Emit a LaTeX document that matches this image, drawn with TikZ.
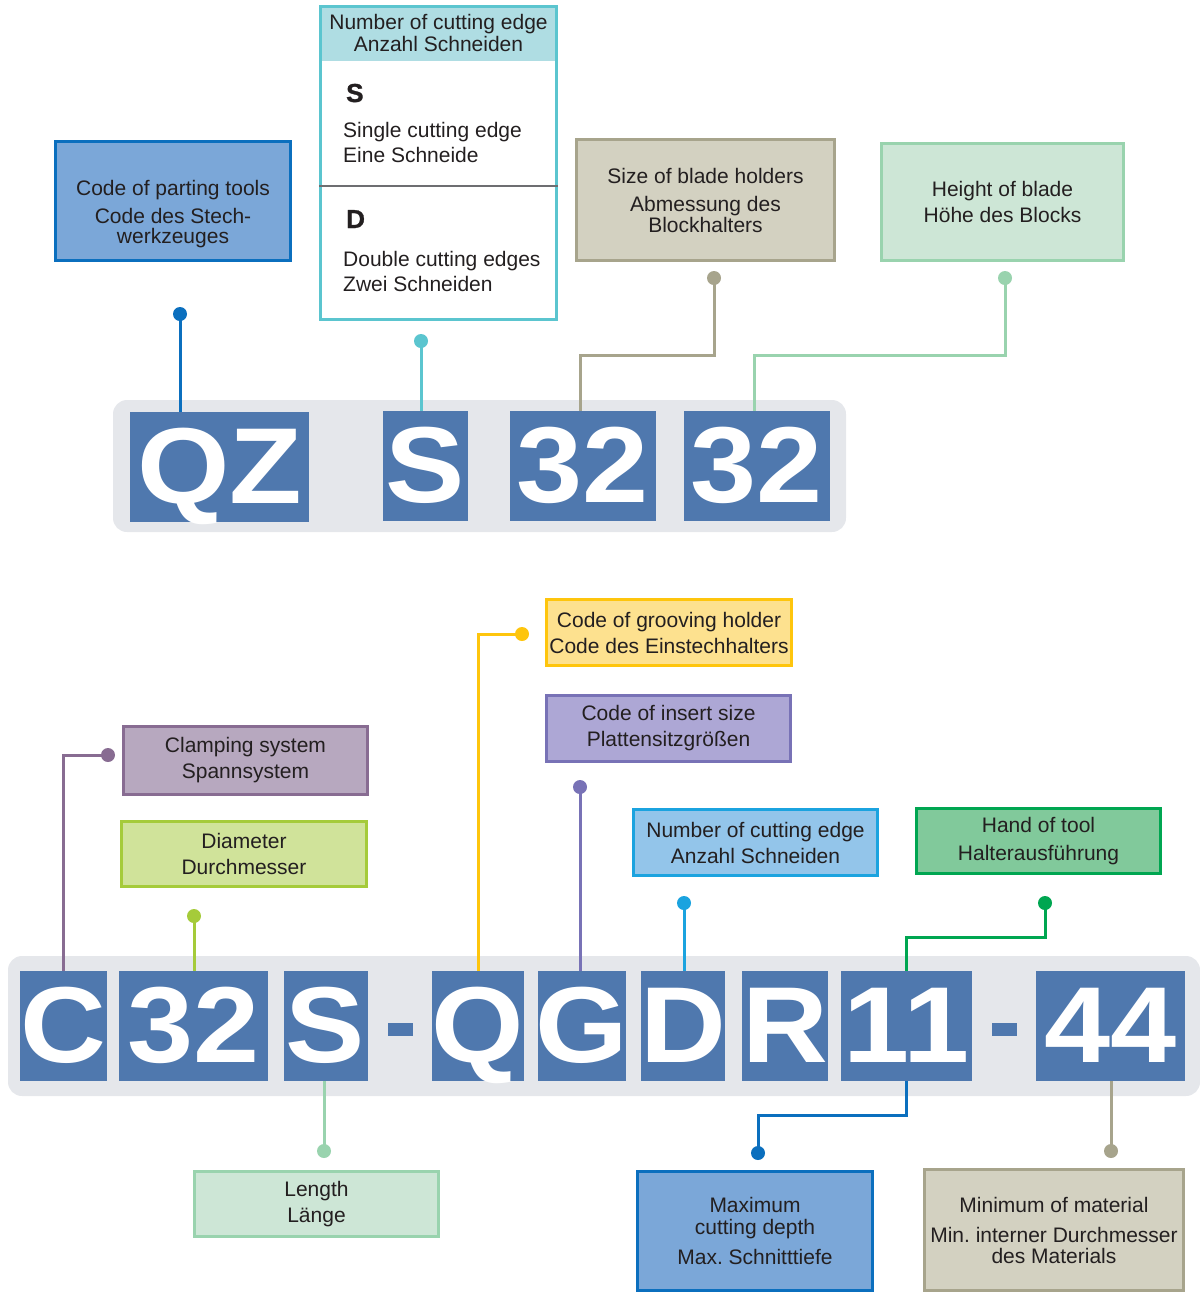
\documentclass[tikz,border=0pt]{standalone}
\usepackage{fontspec}
\setmainfont{Liberation Sans}
\newfontfamily\tilefam{Liberation Sans}[FakeStretch=1.1]
\newfontfamily\keyfam{Liberation Sans}[BoldFeatures={FakeBold=1.2}]
\frenchspacing

\definecolor{tileblue}{HTML}{4F78AE}
\definecolor{bggray}{HTML}{E5E7EB}
\definecolor{txtcol}{HTML}{231F20}
\definecolor{divgray}{HTML}{6D6E71}
\definecolor{partfill}{HTML}{7BA7D8}
\definecolor{partline}{HTML}{0B6FBE}
\definecolor{cutfill}{HTML}{AFDDE3}
\definecolor{cutline}{HTML}{5BC5CF}
\definecolor{tanfill}{HTML}{D3D1C1}
\definecolor{tanline}{HTML}{A7A48C}
\definecolor{mintfill}{HTML}{CDE6D6}
\definecolor{mintline}{HTML}{99D3AE}
\definecolor{clampfill}{HTML}{B7A8BF}
\definecolor{clampline}{HTML}{886C92}
\definecolor{diamfill}{HTML}{D0E39A}
\definecolor{diamline}{HTML}{A5CB3A}
\definecolor{groovefill}{HTML}{FDE18F}
\definecolor{grooveline}{HTML}{FEC50D}
\definecolor{insfill}{HTML}{ADA7D5}
\definecolor{insline}{HTML}{7872B6}
\definecolor{numfill}{HTML}{93C5EA}
\definecolor{numline}{HTML}{1BA3DF}
\definecolor{handfill}{HTML}{81C99B}
\definecolor{handline}{HTML}{00A651}

\newcommand\lblfont{\fontsize{21}{26}\selectfont}
\newcommand\tilefont{\tilefam\bfseries\fontsize{108}{108}\selectfont}
\newcommand\keyfont{\keyfam\bfseries\fontsize{26}{26}\selectfont}
\newcommand\codechar[1]{\makebox[0pt]{#1}}

\begin{document}
\begin{tikzpicture}[
        x=1pt, y=-1pt, % координаты в пикселях, ось y вниз
        box/.style={draw=#1line, fill=#1fill, line width=3pt, inner sep=0pt, align=center, text=txtcol, font=\lblfont}, % рамки с подписями
        tile/.style={fill=tileblue, text=white, font=\tilefont, inner sep=0pt, text height=91pt, text depth=19pt, minimum height=110pt}, % буквы кода
        dot/.style={circle, fill=#1, inner sep=0pt, minimum size=14pt},
        wire/.style={draw=#1, line width=3pt},
        txt/.style={text=txtcol, font=\lblfont, inner sep=0pt},
    ]
    \useasboundingbox (0,0) rectangle (1200,1294);

    % верхний код QZ S 32 32
    \fill[bggray, rounded corners=14pt] (113,400) rectangle (846,532);
    \node[tile, minimum width=179pt] (tqz) at (219.5,467) {\codechar{QZ}};
    \node[tile, minimum width=85pt] (ts) at (425.5,466) {\codechar{S}};
    \node[tile, minimum width=146pt] (tsize) at (583,466) {\codechar{32}};
    \node[tile, minimum width=146pt] (theight) at (757,466) {\codechar{32}};

    \node[box=part, minimum width=235pt, minimum height=119pt] (part) at (173,201) {};
    \node[txt, align=center] (parttxt) at ([yshift=-13pt]part.center) {Code of parting tools\\[2pt]Code des Stech-\\[-6pt]werkzeuges};

    \node[fill=cutfill, minimum width=236pt, minimum height=55pt, inner sep=0pt, align=center, text=txtcol, font=\lblfont] (cuthead) at (438.5,33) {Number of cutting edge\\[-4pt]Anzahl Schneiden};
    \node[draw=cutline, line width=3pt, minimum width=236pt, minimum height=313pt, inner sep=0pt] (cut) at (438.5,163) {};
    \draw[divgray, line width=1.5pt] (cut.west |- 0,186) -- (cut.east |- 0,186);
    \node[txt, font=\keyfont, anchor=base west] (keys) at (346,102) {S};
    \node[txt, anchor=base west] (s1) at (343,137) {Single cutting edge};
    \node[txt, anchor=base west] (s2) at (343,162) {Eine Schneide};
    \node[txt, font=\keyfont, anchor=base west] (keyd) at (346,228) {D};
    \node[txt, anchor=base west] (d1) at (343,266) {Double cutting edges};
    \node[txt, anchor=base west] (d2) at (343,291) {Zwei Schneiden};

    \node[box=tan, minimum width=258pt, minimum height=121pt] (blade) at (705.5,200) {Size of blade holders\\[2pt]Abmessung des\\[-5pt]Blockhalters};
    \node[box=mint, minimum width=242pt, minimum height=117pt] (high) at (1002.5,202) {Height of blade\\Höhe des Blocks};

    \node[dot=partline] (dpart) at (180,314) {};
    \node[dot=cutline] (dcut) at (421,341) {};
    \node[dot=tanline] (dblade) at (714,278) {};
    \node[dot=mintline] (dhigh) at (1005,278) {};
    \coordinate (kblade) at (580,355);
    \coordinate (khigh) at (754,355);
    \draw[wire=partline] (dpart.center) -- (dpart |- tqz.north);
    \draw[wire=cutline] (dcut.center) -- (dcut |- ts.north);
    \draw[wire=tanline] (dblade.center) |- (kblade) -- (kblade |- tsize.north);
    \draw[wire=mintline] (dhigh.center) |- (khigh) -- (khigh |- theight.north);

    % нижний код C32S-QGDR11-44
    \fill[bggray, rounded corners=14pt] (8,956) rectangle (1200,1096);
    \node[tile, minimum width=87pt] (tc) at (63.5,1026) {\codechar{C}};
    \node[tile, minimum width=149pt] (tdia) at (193.5,1026) {\codechar{32}};
    \node[tile, minimum width=84pt] (tlen) at (325.5,1026) {\codechar{S}};
    \node[fill=tileblue, minimum width=25pt, minimum height=13pt, inner sep=0pt] (dash1) at (400,1029) {};
    \node[tile, minimum width=92pt] (tq) at (478,1026) {\codechar{Q}};
    \node[tile, minimum width=88pt] (tg) at (582,1026) {\codechar{G}};
    \node[tile, minimum width=84pt] (td) at (683,1026) {\codechar{D}};
    \node[tile, minimum width=86pt] (tr) at (785,1026) {\codechar{R}};
    \node[tile, minimum width=131pt] (televen) at (906.5,1026) {\codechar{11}};
    \node[fill=tileblue, minimum width=25pt, minimum height=13pt, inner sep=0pt] (dash2) at (1004,1029) {};
    \node[tile, minimum width=149pt] (tmat) at (1110.5,1026) {\codechar{44}};

    \node[box=clamp, minimum width=244pt, minimum height=68pt] (clamp) at (245.5,760.5) {Clamping system\\Spannsystem};
    \node[box=diam, minimum width=245pt, minimum height=65pt] (diam) at (244,854) {Diameter\\Durchmesser};
    \node[box=groove, minimum width=245pt, minimum height=66pt] (groove) at (669,632.5) {Code of grooving holder\\Code des Einstechhalters};
    \node[box=ins, minimum width=244pt, minimum height=66pt] (ins) at (668.5,728.5) {Code of insert size\\Plattensitzgrößen};
    \node[box=num, minimum width=244pt, minimum height=66pt] (num) at (755.5,842.5) {Number of cutting edge\\Anzahl Schneiden};
    \node[box=hand, minimum width=244pt, minimum height=65pt] (hand) at (1038.5,841) {Hand of tool\\[2pt]Halterausführung};
    \node[box=mint, minimum width=244pt, minimum height=65pt] (len) at (316.5,1204) {Length\\Länge};
    \node[box=part, minimum width=235pt, minimum height=119pt] (depth) at (755,1231) {Maximum\\[-4pt]cutting depth\\[4pt]Max. Schnitttiefe};
    \node[box=tan, minimum width=259pt, minimum height=121pt] (mat) at (1054,1230) {Minimum of material\\[4pt]Min. interner Durchmesser\\[-5pt]des Materials};

    \node[dot=clampline] (dclamp) at (108,755) {};
    \node[dot=diamline] (ddiam) at (194,916) {};
    \node[dot=grooveline] (dgroove) at (522,634) {};
    \node[dot=insline] (dins) at (580,787) {};
    \node[dot=numline] (dnum) at (684,903) {};
    \node[dot=handline] (dhand) at (1045,903) {};
    \node[dot=mintline] (dlen) at (324,1151) {};
    \node[dot=partline] (ddepth) at (758,1153) {};
    \node[dot=tanline] (dmat) at (1111,1151) {};
    \coordinate (khand) at (906,937);
    \coordinate (kdepth) at (906,1115);
    \draw[wire=clampline] (dclamp.center) -| (tc.north);
    \draw[wire=diamline] (ddiam.center) -- (ddiam |- tdia.north);
    \draw[wire=grooveline] (dgroove.center) -| (tq.north);
    \draw[wire=insline] (dins.center) -- (dins |- tg.north);
    \draw[wire=numline] (dnum.center) -- (dnum |- td.north);
    \draw[wire=handline] (dhand.center) |- (khand) -- (khand |- televen.north);
    \draw[wire=mintline] (dlen.center) -- (dlen |- tlen.south);
    \draw[wire=partline] (ddepth.center) |- (kdepth) -- (kdepth |- televen.south);
    \draw[wire=tanline] (dmat.center) -- (dmat |- tmat.south);
\end{tikzpicture}
\end{document}
